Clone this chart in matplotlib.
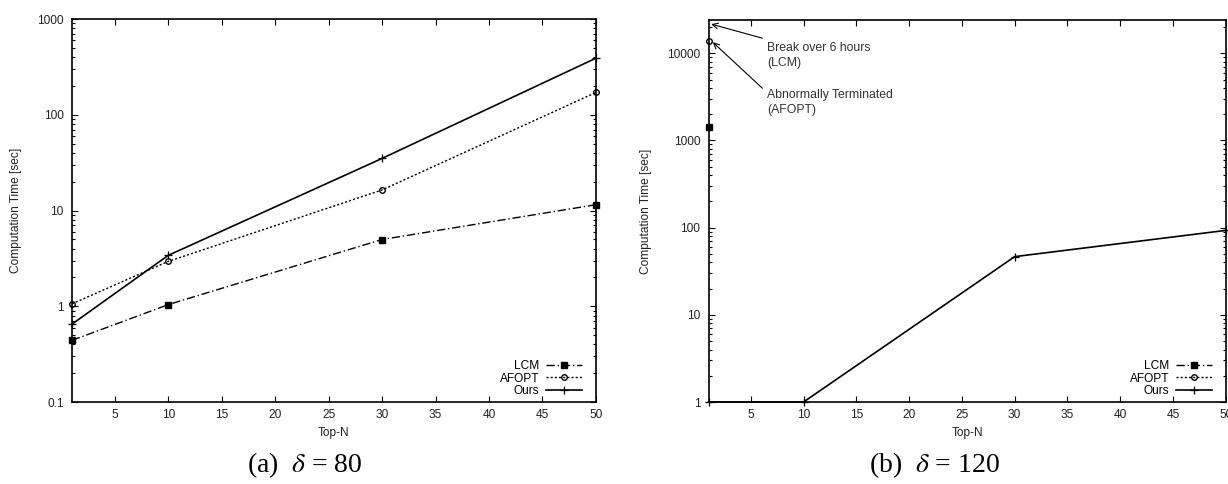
import matplotlib
matplotlib.use("Agg")
import matplotlib.pyplot as plt
from matplotlib.ticker import LogLocator, FuncFormatter, NullFormatter

plt.rcParams['font.family'] = ['Liberation Sans', 'DejaVu Sans']
plt.rcParams['mathtext.fontset'] = 'stix'

# ---- Data (a) delta = 80 ----
topn_a = [1, 10, 30, 50]
lcm_a = [0.44, 1.04, 4.98, 11.5]
afopt_a = [1.06, 2.94, 16.4, 171]
ours_a = [0.65, 3.4, 35, 390]

# ---- Data (b) delta = 120 ----
topn_b = [1, 10, 30, 50]
lcm_b_x = [1]
lcm_b = [1420]
afopt_b_x = [1]
afopt_b = [14000]
ours_b = [1, 1, 46.5, 93]

series_names = ['LCM', 'AFOPT', 'Ours']
captions = [r'(a)  $\delta$ = 80', r'(b)  $\delta$ = 120']


def style_axes(ax, ylim, yticks):
    ax.set_yscale('log')
    ax.set_xlim(1, 50)
    ax.set_ylim(*ylim)
    ax.set_xticks(range(5, 51, 5))
    ax.set_yticks(yticks)
    ax.yaxis.set_minor_locator(LogLocator(base=10, subs=range(2, 10)))
    ax.yaxis.set_minor_formatter(NullFormatter())
    ax.yaxis.set_major_formatter(FuncFormatter(lambda v, p: '%g' % v))
    ax.tick_params(which='both', direction='in', top=True, right=True,
                   labelsize=8.6, width=0.8, labelcolor='#222222')
    ax.tick_params(axis='y', pad=6)
    ax.tick_params(axis='x', pad=5)
    ax.tick_params(which='major', length=4.5)
    ax.tick_params(which='minor', length=2.2)
    for s in ax.spines.values():
        s.set_linewidth(1.2)
    ax.set_xlabel('Top-N', fontsize=8.6, labelpad=4, color='#222222')
    ax.set_ylabel('Computation Time [sec]', fontsize=8.6, labelpad=11, color='#222222')


def add_legend(ax, handles, width_px):
    # gnuplot-like key: labels right-aligned, samples on the right
    ax.legend(handles=handles, labels=series_names, loc='lower right',
              bbox_to_anchor=(1 - 9 / width_px, 0),
              frameon=False, markerfirst=False, fontsize=8.6,
              handlelength=3.0, handletextpad=0.6, labelspacing=0.05,
              borderaxespad=0.0, borderpad=0.4, numpoints=1)


fig = plt.figure(figsize=(12.28, 4.84), dpi=100)
ax1 = fig.add_axes([0.0586, 0.1694, 0.4267, 0.7913])
ax2 = fig.add_axes([0.577, 0.1694, 0.4212, 0.789])

lcm_style = dict(color='black', lw=1.0, ls=(0, (6, 2, 1, 2)), marker='s', ms=4.5, clip_on=False)
afopt_style = dict(color='black', lw=1.0, ls=(0, (1.5, 1.5)), marker='o', ms=4,
                   mfc='none', mew=1.0, clip_on=False)
ours_style = dict(color='black', lw=1.2, ls='-', marker='+', ms=6, mew=0.9, clip_on=False)

# ---- panel (a) ----
h1, = ax1.plot(topn_a, lcm_a, **lcm_style)
h2, = ax1.plot(topn_a, afopt_a, **afopt_style)
h3, = ax1.plot(topn_a, ours_a, **ours_style)
style_axes(ax1, (0.1, 1000), [0.1, 1, 10, 100, 1000])
add_legend(ax1, [h1, h2, h3], 524)

# ---- panel (b) ----
g1, = ax2.plot(lcm_b_x, lcm_b, **lcm_style)
g2, = ax2.plot(afopt_b_x, afopt_b, **afopt_style)
g3, = ax2.plot(topn_b, ours_b, **ours_style)
style_axes(ax2, (1, 24000), [1, 10, 100, 1000, 10000])
add_legend(ax2, [g1, g2, g3], 517)

arrow = dict(arrowstyle='->', color='black', lw=0.8, shrinkA=0, shrinkB=0)
ax2.annotate('', xy=(1.25, 21600), xytext=(6.1, 14900), arrowprops=arrow)
ax2.annotate('', xy=(1.4, 13400), xytext=(6.1, 3975), arrowprops=arrow)
ax2.text(6.55, 13300, 'Break over 6 hours\n(LCM)', fontsize=8.8, va='top', ha='left',
         linespacing=1.25, color='#333333')
ax2.text(6.55, 3850, 'Abnormally Terminated\n(AFOPT)', fontsize=8.8, va='top', ha='left',
         linespacing=1.25, color='#333333')

# ---- captions ----
fig.text(305 / 1228, 1 - 465 / 484, captions[0], fontsize=20, ha='center', va='center',
         family='Liberation Serif')
fig.text(935 / 1228, 1 - 465 / 484, captions[1], fontsize=20, ha='center', va='center',
         family='Liberation Serif')

fig.savefig('out.png', dpi=100)
